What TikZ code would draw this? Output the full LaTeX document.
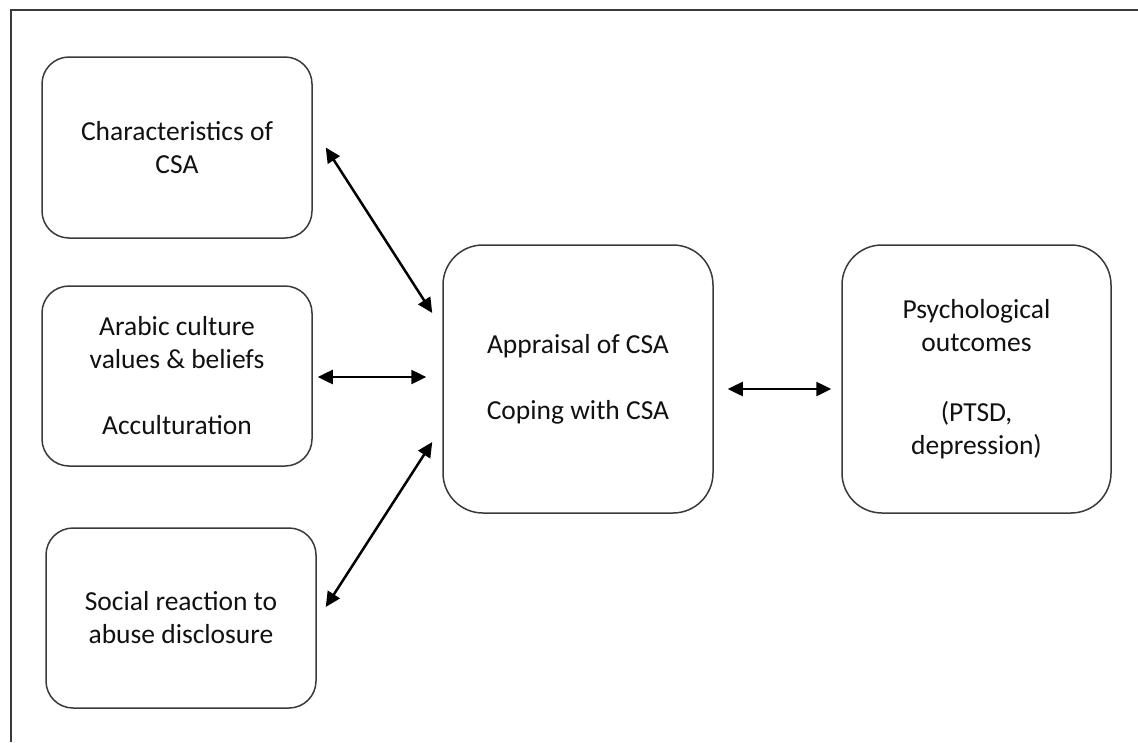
\documentclass[tikz,border=0pt]{standalone}
\usepackage{fontspec}
\setmainfont{Carlito}
\usetikzlibrary{arrows.meta}
\definecolor{boxline}{HTML}{3A3A3A}
\definecolor{txt}{HTML}{111111}
\begin{document}
\begin{tikzpicture}[x=1pt,y=-1pt,
  box/.style={draw=boxline, line width=1.5pt, rounded corners=27pt, align=center,
    minimum width=270pt, minimum height=180pt, inner sep=0pt, text=txt,
    font=\fontsize{27.5}{33}\selectfont},
  bigbox/.style={box, rounded corners=40pt, minimum height=268pt},
  link/.style={line width=2.5pt, {Triangle[length=15pt,width=14pt]}-{Triangle[length=15pt,width=14pt]}}
]
\useasboundingbox (0,0) rectangle (1138,742);
\draw[boxline, line width=2pt] (11,742) -- (11,10) -- (1138,10);

\node[box, minimum height=181pt] (c1) at (177,147.5) {Characteristics of\\CSA};
\node[box] (c2) at (177,376) {Arabic culture\\values \& beliefs\\[33pt]Acculturation};
\node[box] (c3) at (181,618) {Social reaction to\\abuse disclosure};
\node[bigbox] (c) at (578,379) {Appraisal of CSA\\[33pt]Coping with CSA};
\node[bigbox, minimum width=269pt] (r) at (976.5,379) {Psychological\\outcomes\\[37pt](PTSD,\\depression)};

\coordinate (a1s) at ([shift={(13,0)}]c1.east);
\coordinate (a1e) at ([shift={(-10,-66)}]c.west);
\draw[link] (a1s) -- (a1e);

\coordinate (a2s) at ([shift={(5,1)}]c2.east);
\coordinate (a2e) at ([shift={(-16,-2)}]c.west);
\draw[link] (a2s) -- (a2e);

\coordinate (a3s) at ([shift={(9,-11)}]c3.east);
\coordinate (a3e) at ([shift={(-10,63)}]c.west);
\draw[link] (a3s) -- (a3e);

\coordinate (a4s) at ([shift={(14,10)}]c.east);
\coordinate (a4e) at ([shift={(-10,10)}]r.west);
\draw[link] (a4s) -- (a4e);
\end{tikzpicture}
\end{document}
